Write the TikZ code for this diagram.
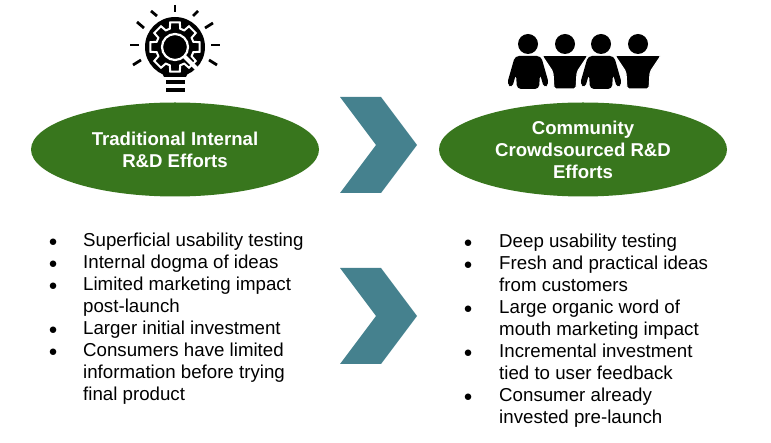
\documentclass[tikz,border=0pt]{standalone}
\usepackage{fontspec}
\setmainfont{Liberation Sans}
\usetikzlibrary{shapes.geometric}
\definecolor{effortgreen}{HTML}{38761D}
\definecolor{chevronteal}{HTML}{45818E}
\tikzset{
    effort/.style={ellipse,fill=effortgreen,text=white,align=center,inner sep=0pt,
        minimum width=288pt,minimum height=94pt,font=\fontsize{18.6}{22}\selectfont\bfseries},
    item/.style={anchor=base west,inner sep=0pt,font=\fontsize{18.7}{22}\selectfont},
    dotitem/.style={anchor=base west,inner sep=0pt,font=\fontsize{15}{22}\selectfont},
    ray/.style={line width=2.8pt},
    chevron/.style={fill=chevronteal}
}
\begin{document}
\begin{tikzpicture}[x=1pt,y=-1pt]
    \useasboundingbox (0,0) rectangle (771,443);
    % bulb
    \fill (175,47) circle (30);
    \fill (160,68) -- (190,68) -- (186,77) -- (164,77) -- cycle;
    \fill (166,80) rectangle (185,84);
    \fill (166,88) rectangle (185,92);
    \foreach \xa/\ya/\xb/\yb in {175/5/175/12,151/11/157/16,137/22/144/28,130/45/139/45,133/65/141/60,
        193/16/198/11,205/28/213/23,211/45/220/45,209/60/217/65} {
        \draw[ray] (\xa,\ya) -- (\xb,\yb);
    }
    \begin{scope}[shift={(175,47)}]
        \draw[white,line width=2pt] (-11:25)
            \foreach \a in {0,45,...,315} {
                -- ({\a-11}:25) -- ({\a+11}:25) -- ({\a+16}:19) -- ({\a+29}:19)
            } -- cycle;
        \draw[white,line width=2.2pt] (0,0) circle (13);
        \draw[white,line width=4pt] (9,9) -- (24,24);
    \end{scope}
    % people
    \foreach \x in {528,565,601,638} {
        \fill (\x,44) circle (10);
    }
    \foreach \x in {528,601} {
        \fill[rounded corners=4pt] (\x-13,56) -- (\x+13,56) -- (\x+21,84) -- (\x+16,88) -- (\x+12,74)
            -- (\x+11,89) -- (\x-11,89) -- (\x-12,74) -- (\x-16,88) -- (\x-21,84) -- cycle;
    }
    \foreach \x in {565,638} {
        \draw[white,line width=1pt,fill=black,rounded corners=2pt] (\x-23,55.5) -- (\x+23,55.5) -- (\x+12,72)
            -- (\x+11,89) -- (\x-11,89) -- (\x-12,72) -- cycle;
    }
    % ellipses
    \node[effort] (traditional) at (175,149.5) {Traditional Internal\\R\&D Efforts};
    \node[effort] (community) at (583,149.5) {Community\\Crowdsourced R\&D\\Efforts};
    % chevrons
    \foreach \y in {145,316} {
        \fill[chevron] (340,\y-48) -- (381,\y-48) -- (417,\y) -- (381,\y+48) -- (340,\y+48) -- (376,\y) -- cycle;
    }
    % left list
    \foreach \n/\b/\y/\t in {l1/1/247/Superficial usability testing,l2/1/269/Internal dogma of ideas,
        l3/1/291/Limited marketing impact,l4/0/313/post-launch,l5/1/335/Larger initial investment,
        l6/1/357/Consumers have limited,l7/0/379/information before trying,l8/0/401/final product} {
        \node[item] (\n) at (83,\y) {\t};
        \ifnum\b=1 \node[dotitem] (\n b) at (48.5,\y) {●}; \fi
    }
    % right list
    \foreach \n/\b/\y/\t in {r1/1/248/Deep usability testing,r2/1/270/Fresh and practical ideas,
        r3/0/292/from customers,r4/1/314/Large organic word of,r5/0/336/mouth marketing impact,
        r6/1/358/Incremental investment,r7/0/380/tied to user feedback,r8/1/402/Consumer already,
        r9/0/424/invested pre-launch} {
        \node[item] (\n) at (499,\y) {\t};
        \ifnum\b=1 \node[dotitem] (\n b) at (463.5,\y) {●}; \fi
    }
\end{tikzpicture}
\end{document}
